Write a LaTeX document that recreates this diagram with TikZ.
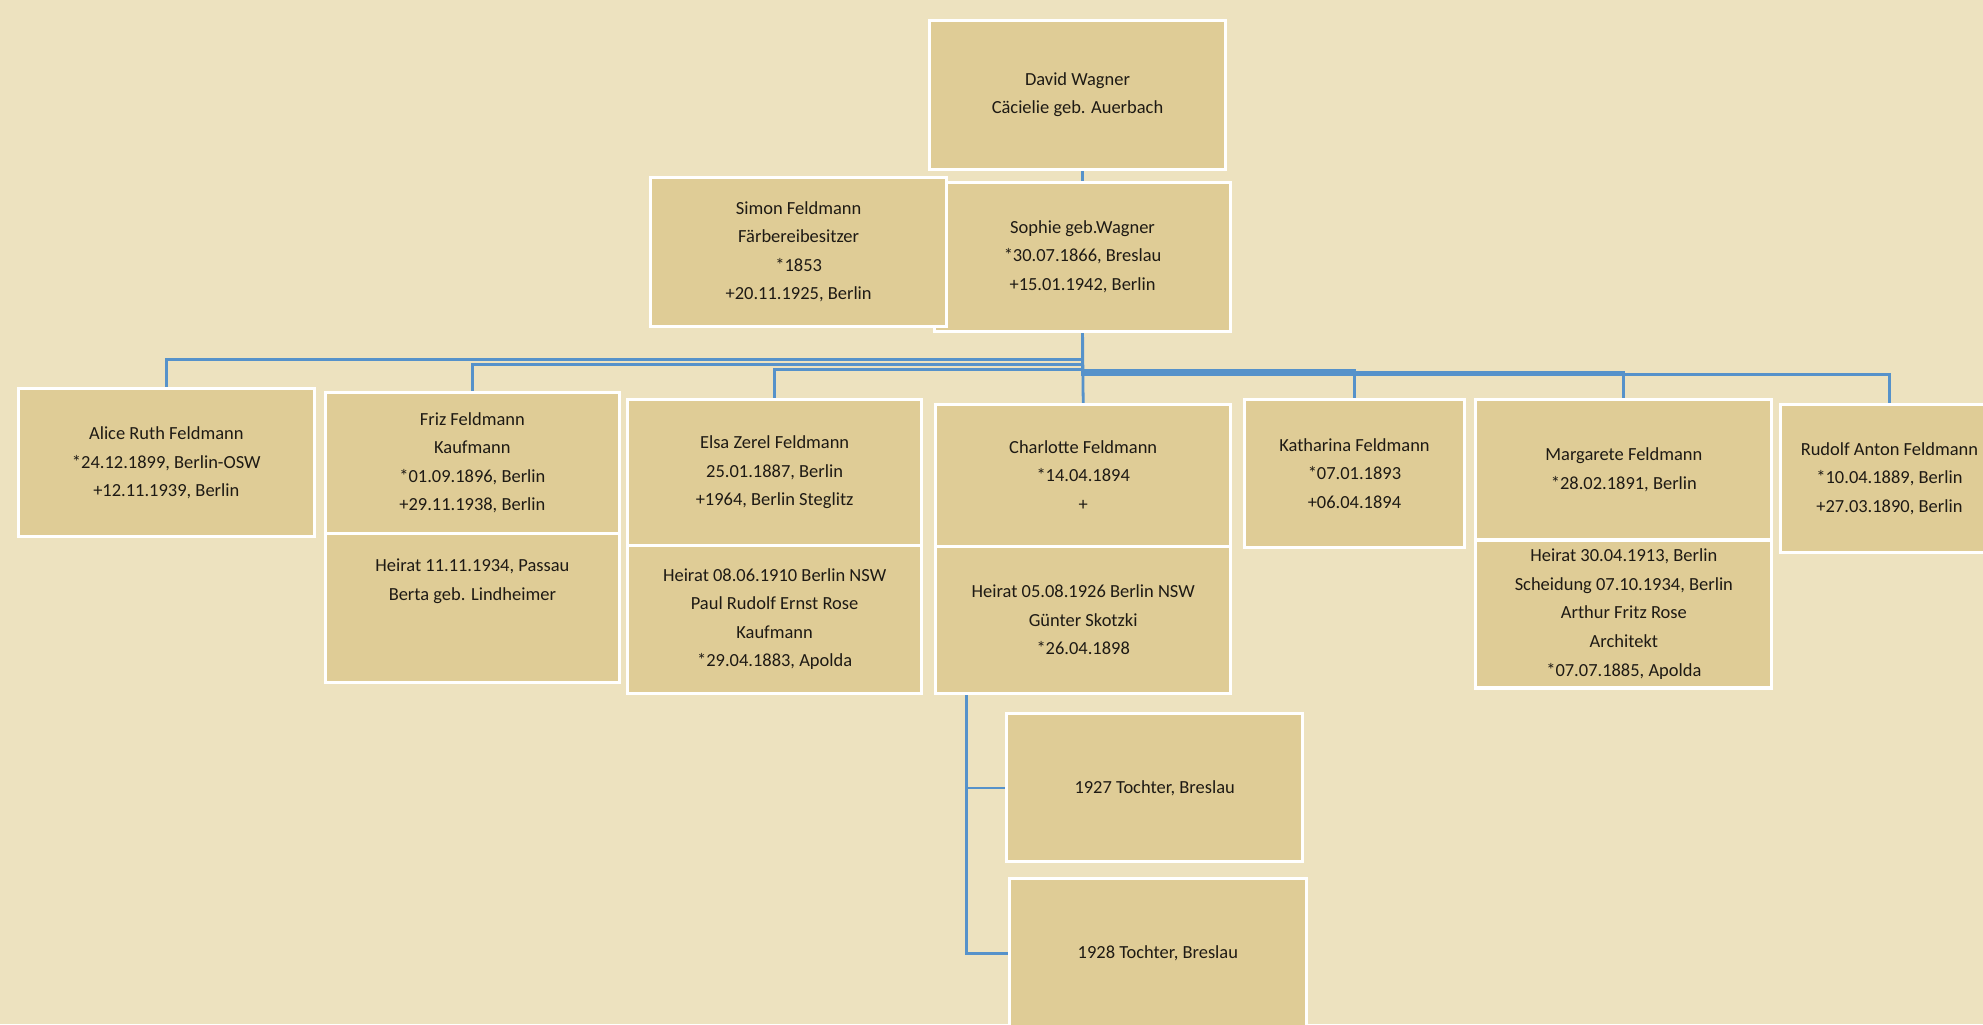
\documentclass[tikz,border=0pt]{standalone}
\usepackage{fontspec}
\setmainfont{Carlito}
\definecolor{bgc}{RGB}{237,226,191}
\definecolor{paper}{RGB}{223,204,150}
\definecolor{linec}{RGB}{86,146,202}
\definecolor{ink}{RGB}{30,26,20}
\pgfdeclarelayer{bottom}
\pgfdeclarelayer{background}
\pgfsetlayers{bottom,background,main}
\begin{document}
\begin{tikzpicture}[x=1pt,y=-1pt,
  box/.style={draw=white, line width=2.4pt, fill=paper, inner sep=0pt,
    align=center, text=ink, font=\fontsize{14.6}{22.6}\selectfont,
    minimum height=117pt},
  wide/.style={minimum width=234pt},
  narrow/.style={minimum width=174pt},
  conn/.style={draw=linec, line width=2.2pt}]
\useasboundingbox (0,0) rectangle (1568,810);
\clip (0,0) rectangle (1568,810);
\begin{pgfonlayer}{bottom}
\fill[bgc] (0,0) rectangle (1568,810);
\end{pgfonlayer}

% parents
\node[box, wide, minimum height=118pt] (david) at (852,75) {David Wagner\\Cäcielie geb. Auerbach};
\node[box, wide, minimum height=118pt] (sophie) at (856,203) {Sophie geb.Wagner\\*30.07.1866, Breslau\\+15.01.1942, Berlin};
\node[box, wide, minimum height=118pt] (simon) at (631.5,199) {Simon Feldmann\\Färbereibesitzer\\*1853\\+20.11.1925, Berlin};

% children
\node[box, wide] (alice) at (131.5,366) {Alice Ruth Feldmann\\*24.12.1899, Berlin-OSW\\+12.11.1939, Berlin};
\node[box, minimum width=233pt, minimum height=112pt] (friz) at (373.5,366) {Friz Feldmann\\Kaufmann\\*01.09.1896, Berlin\\+29.11.1938, Berlin};
\node[box, minimum width=233pt, minimum height=118pt] (frizb) at (373.5,481) {Heirat 11.11.1934, Passau\\Berta geb. Lindheimer\\~\\~};
\node[box, minimum width=233pt, minimum height=115pt] (elsa) at (612.5,373.5) {Elsa Zerel Feldmann\\25.01.1887, Berlin\\+1964, Berlin Steglitz};
\node[box, minimum width=233pt] (elsab) at (612.5,489.5) {Heirat 08.06.1910 Berlin NSW\\Paul Rudolf Ernst Rose\\Kaufmann\\*29.04.1883, Apolda};
\node[box, minimum width=233pt, minimum height=112pt] (charl) at (856.5,376) {Charlotte Feldmann\\*14.04.1894\\+};
\node[box, minimum width=233pt, minimum height=116pt] (charlb) at (856.5,490) {Heirat 05.08.1926 Berlin NSW\\Günter Skotzki\\*26.04.1898};
\node[box, narrow] (kath) at (1071,374.5) {Katharina Feldmann\\*07.01.1893\\+06.04.1894};
\node[box, wide, minimum height=111pt] (marg) at (1284,371.5) {Margarete Feldmann\\*28.02.1891, Berlin};
\node[box, wide] (margb) at (1284,485.5) {Heirat 30.04.1913, Berlin\\Scheidung 07.10.1934, Berlin\\Arthur Fritz Rose\\Architekt\\*07.07.1885, Apolda};
\node[box, minimum width=172pt] (rudolf) at (1494,378.5) {Rudolf Anton Feldmann\\*10.04.1889, Berlin\\+27.03.1890, Berlin};

% grandchildren
\node[box, wide] (t1927) at (913,623) {1927 Tochter, Breslau};
\node[box, minimum width=235pt, minimum height=118pt] (t1928) at (915.5,754) {1928 Tochter, Breslau};

% connectors
\begin{pgfonlayer}{background}
\draw[conn] (sophie.north) -- (sophie.north |- david.south);
\draw[conn] (sophie.south) -- (charl.north);
\draw[conn] (sophie.south) -- ++(0,21) -| (alice.north);
\draw[conn] (sophie.south) -- ++(0,25) -| (friz.north);
\draw[conn] (sophie.south) -- ++(0,29) -| (elsa.north);
\draw[conn] (sophie.south) -- ++(0,30) -| (kath.north);
\draw[conn] (sophie.south) -- ++(0,31.5) -| (marg.north);
\draw[conn] (sophie.south) -- ++(0,33) -| (rudolf.north);
\coordinate (cs) at ([xshift=-92pt]charlb.south);
\draw[conn] (cs) |- (t1927.west);
\draw[conn] (cs) |- (t1928.west);
\end{pgfonlayer}
\end{tikzpicture}
\end{document}
